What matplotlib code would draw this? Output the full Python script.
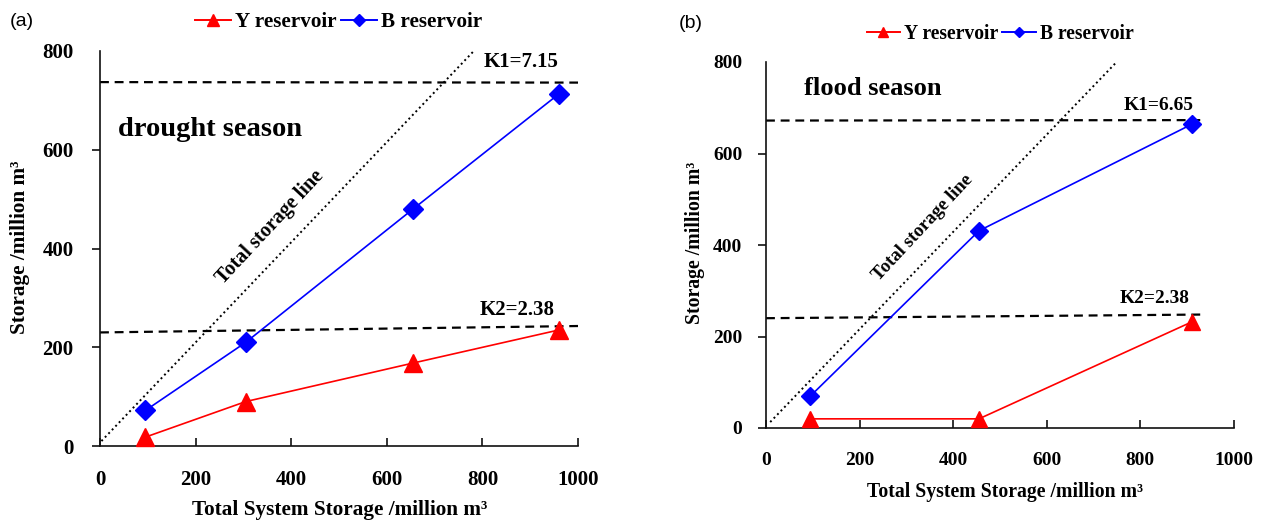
import matplotlib
matplotlib.use("Agg")
import matplotlib.pyplot as plt
from matplotlib.lines import Line2D

# ---------------- data ----------------
a_x = [95, 305, 655, 960]
a_Y = [18, 90, 168, 235]
a_B = [72, 210, 480, 713]
a_total_x = [3, 782]
a_total_y = [10, 800]
a_K1_x = [0, 1000]
a_K1_y = [737, 736]
a_K2_x = [0, 1000]
a_K2_y = [230, 243]

b_x = [95, 455, 910]
b_Y = [20, 20, 232]
b_B = [70, 431, 664]
b_total_x = [9, 752]
b_total_y = [13, 803]
b_K1_x = [0, 935]
b_K1_y = [672, 673]
b_K2_x = [0, 935]
b_K2_y = [240, 248]

xticks = [0, 200, 400, 600, 800, 1000]
yticks = [0, 200, 400, 600, 800]
series_names = ["Y reservoir", "B reservoir"]
xlabel = "Total System Storage /million m³"
ylabel = "Storage /million m³"

SERIF = ["Liberation Serif", "DejaVu Serif"]
SANS = ["Liberation Sans", "DejaVu Sans"]

fig = plt.figure(figsize=(12.61, 5.23), dpi=100)


def make_panel(rect, s, xs, Y, B, tot_x, tot_y, k1x, k1y, k2x, k2y,
               k1_text, k1_pos, k2_text, k2_pos, season, season_pos,
               tsl_pos, tsl_rot, letter, letter_pos, xl_coords, yl_coords,
               leg_y, xpad, ypad):
    ax = fig.add_axes(rect)
    ax.set_xlim(0, 1000)
    ax.set_ylim(0, 800)
    for sp in ["top", "right"]:
        ax.spines[sp].set_visible(False)
    for sp in ["left", "bottom"]:
        ax.spines[sp].set_linewidth(1.2)
        ax.spines[sp].set_color("#111111")

    ax.plot(tot_x, tot_y, color="black", lw=1.4, linestyle=(0, (1, 1.6)))
    ax.plot(k1x, k1y, color="black", lw=1.6, linestyle=(0, (4, 2.6)))
    ax.plot(k2x, k2y, color="black", lw=1.6, linestyle=(0, (4, 2.6)))

    ax.plot(xs, Y, color="#FF0000", lw=1.2, marker="^", ms=13 * s,
            mec="#FF0000", mfc="#FF0000", clip_on=False, zorder=4)
    ax.plot(xs, B, color="#0000FF", lw=1.2, marker="D", ms=10 * s,
            mec="#0000FF", mfc="#0000FF", clip_on=False, zorder=5)

    ax.set_xticks(xticks)
    ax.set_yticks(yticks)
    ax.set_xticklabels([str(t) for t in xticks], family=SERIF,
                       fontweight="bold", fontsize=15 * s)
    ax.set_yticklabels([str(t) for t in yticks], family=SERIF,
                       fontweight="bold", fontsize=15 * s)
    ax.tick_params(axis="x", direction="in", length=6, width=1.2,
                   pad=xpad, color="#111111")
    ax.tick_params(axis="y", direction="out", length=6, width=1.2,
                   pad=ypad, color="#111111")
    # top y tick points inward
    ax.yaxis.get_major_ticks()[-1].tick1line.set_visible(False)
    ax.set_yticks([800], minor=True)
    ax.tick_params(axis="y", which="minor", direction="in", length=6,
                   width=1.2, color="#111111")

    ax.set_xlabel(xlabel, family=SERIF, fontweight="bold", fontsize=15.3 * s)
    ax.set_ylabel(ylabel, family=SERIF, fontweight="bold", fontsize=15.3 * s)
    ax.xaxis.set_label_coords(*xl_coords)
    ax.yaxis.set_label_coords(*yl_coords)
    ax.xaxis.label.set_va("center")
    ax.yaxis.label.set_va("center")

    ax.text(k1_pos[0], k1_pos[1], k1_text, family=SERIF, fontweight="bold",
            fontsize=15 * s, ha="center", va="center")
    ax.text(k2_pos[0], k2_pos[1], k2_text, family=SERIF, fontweight="bold",
            fontsize=15 * s, ha="center", va="center")
    ax.text(season_pos[0], season_pos[1], season, family=SERIF,
            fontweight="bold", fontsize=20.5 * s, ha="left", va="center")
    ax.text(tsl_pos[0], tsl_pos[1], "Total storage line", family=SERIF,
            fontweight="bold", fontsize=14.5 * s, ha="center", va="center",
            rotation=tsl_rot, rotation_mode="anchor")

    fig.text(letter_pos[0], letter_pos[1], letter, family=SANS,
             fontsize=14, ha="center", va="center")

    handles = [
        Line2D([], [], color="#FF0000", lw=1.4, marker="^", ms=8 * s,
               mfc="#FF0000", mec="#FF0000"),
        Line2D([], [], color="#0000FF", lw=1.4, marker="D", ms=6 * s,
               mfc="#0000FF", mec="#0000FF"),
    ]
    ax.legend(handles, series_names, loc="center",
              bbox_to_anchor=(0.5, leg_y), ncol=2, frameon=False,
              prop={"family": SERIF, "weight": "bold", "size": 15.2 * s},
              handlelength=1.7, handletextpad=0.2, columnspacing=0.2,
              borderaxespad=0)
    return ax


W, H = 1261.0, 523.0
# panel a: x 100..578, y 51..446 (px)
make_panel([100 / W, 1 - 446 / H, 478 / W, 395 / H], 1.0,
           a_x, a_Y, a_B, a_total_x, a_total_y, a_K1_x, a_K1_y,
           a_K2_x, a_K2_y,
           "K1=7.15", (880, 777), "K2=2.38", (873, 275),
           "drought season", (38, 642), (356, 443), 47,
           "(a)", (22 / W, 1 - 21 / H), (0.502, -0.162), (-0.167, 0.504),
           (446 - 22) / 395.0, 17, 13)
# panel b: x 766..1234, y 62..428 (px)
make_panel([766 / W, 1 - 428 / H, 468 / W, 366 / H], 0.93,
           b_x, b_Y, b_B, b_total_x, b_total_y, b_K1_x, b_K1_y,
           b_K2_x, b_K2_y,
           "K1=6.65", (838, 704), "K2=2.38", (831, 282),
           "flood season", (81, 741), (335, 437), 47,
           "(b)", (691 / W, 1 - 23 / H), (0.51, -0.175), (-0.152, 0.505),
           (428 - 34) / 366.0, 17, 11)

fig.savefig("out.png", dpi=100)
